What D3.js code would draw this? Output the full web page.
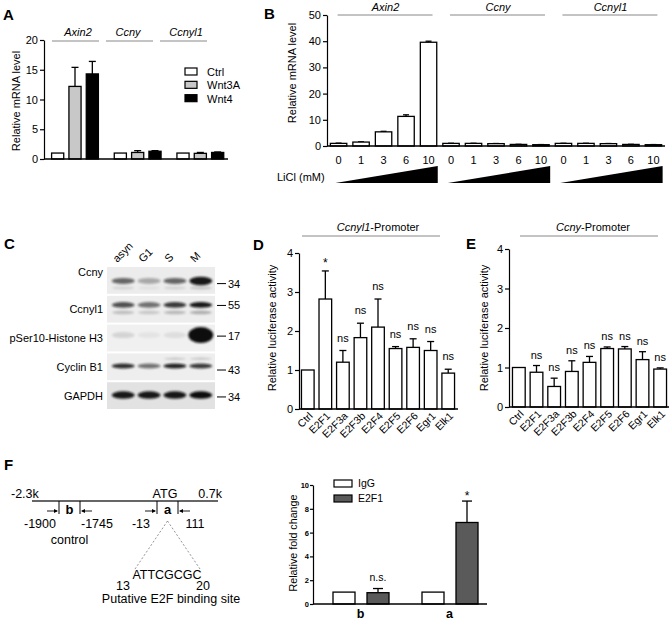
<!DOCTYPE html>
<html><head><meta charset="utf-8">
<script src="https://cdn.jsdelivr.net/npm/d3@7"></script>
<style>body{margin:0;background:#fff}svg{display:block;font-family:"Liberation Sans",Arial,Helvetica,sans-serif}</style>
</head><body><svg id="fig" width="669" height="620"></svg>
<script>
// ---------------- DATA ----------------
// Panel A
const aGenes = ["Axin2","Ccny","Ccnyl1"];
const aSeries = ["Ctrl","Wnt3A","Wnt4"];
const aMeans = [[1,12.2,14.3],[1,1.1,1.3],[1,0.95,1.1]];
const aErrs  = [[0,3.2,2.1],[0,0.3,0.1],[0,0.15,0.08]];
const aTicks = [0,5,10,15,20];
// Panel B
const bGenes = ["Axin2","Ccny","Ccnyl1"];
const bDoses = ["0","1","3","6","10"];
const bMeans = [[1,1.5,5.4,11.3,39.6],[1,1,0.9,0.6,0.5],[1,1,0.9,0.6,0.5]];
const bErrs  = [[0.1,0.1,0.2,0.6,0.4],[0.05,0.05,0.05,0.05,0.05],[0.05,0.05,0.05,0.05,0.05]];
const bTicks = [0,10,20,30,40,50];
// Panel C (western blot)
const cLanes = ["asyn","G1","S","M"];
const cProteins = ["Ccny","Ccnyl1","pSer10-Histone H3","Cyclin B1","GAPDH"];
const cMW = ["34","55","17","43","34"];
const cIntensity = [[0.6,0.3,0.6,0.95],[0.7,0.55,0.8,0.95],[0.12,0.05,0.08,1],[0.85,0.55,0.9,0.8],[0.95,0.95,0.95,1]];
// Panel D / E
const lucFactors = ["Ctrl","E2F1","E2F3a","E2F3b","E2F4","E2F5","E2F6","Egr1","Elk1"];
const dMeans = [1,2.82,1.2,1.83,2.1,1.55,1.58,1.5,0.92];
const dErrs  = [0,0.72,0.3,0.37,0.72,0.05,0.22,0.23,0.1];
const dSig   = ["","*","ns","ns","ns","ns","ns","ns","ns"];
const eMeans = [1,0.88,0.52,0.9,1.13,1.48,1.47,1.2,0.96];
const eErrs  = [0,0.17,0.21,0.27,0.15,0.04,0.06,0.2,0.03];
const eSig   = ["","ns","ns","ns","ns","ns","ns","ns","ns"];
const lucTicks = [0,1,2,3,4];
// Panel F
const fSites = ["b","a"];
const fSeries = ["IgG","E2F1"];
const fMeans = [[1,0.95],[1,6.85]];
const fErrs  = [[0,0.35],[0,1.8]];
const fSig   = [["","n.s."],["","*"]];
const fTicks = [0,2,4,6,8,10];
const fCoords = [-2300,-1900,-1745,-13,111,700];

// ---------------- HELPERS ----------------
const svg = d3.select("#fig");
const defs = svg.append("defs");
defs.append("filter").attr("id","blur").attr("x","-50%").attr("y","-100%").attr("width","200%").attr("height","300%")
  .append("feGaussianBlur").attr("stdDeviation",1.1);

function styleAxis(g, fs, bold){
  g.attr("font-family",null).attr("font-size",null);
  g.selectAll("path,line").attr("stroke","#000").attr("stroke-width",1.2);
  g.selectAll("text").attr("font-size",fs).attr("fill","#000").attr("font-weight",bold?"bold":null);
}
function bar(g, x, w, yScale, m, e, fill, cap){
  const cx = x + w/2;
  if (e > 0){
    g.append("line").attr("x1",cx).attr("x2",cx).attr("y1",yScale(m)).attr("y2",yScale(m+e)).attr("stroke","#000").attr("stroke-width",1.3);
    g.append("line").attr("x1",cx-cap).attr("x2",cx+cap).attr("y1",yScale(m+e)).attr("y2",yScale(m+e)).attr("stroke","#000").attr("stroke-width",1.3);
  }
  g.append("rect").attr("x",x).attr("y",yScale(m)).attr("width",w).attr("height",yScale(0)-yScale(m))
    .attr("fill",fill).attr("stroke","#000").attr("stroke-width",1.3);
}
function panelLetter(t,x,y){
  svg.append("text").attr("x",x).attr("y",y).attr("font-size",15).attr("font-weight","bold").text(t);
}
function yTitle(t,x,y,fs){
  svg.append("text").attr("transform",`translate(${x},${y}) rotate(-90)`).attr("text-anchor","middle")
    .attr("font-size",fs).text(t);
}

// ---------------- PANEL A ----------------
panelLetter("A",3,20);
{
  const g = svg.append("g");
  const y = d3.scaleLinear().domain([0,20]).range([159,40]);
  const x0 = d3.scaleBand().domain(aGenes).range([44,232]);
  const x1 = d3.scaleBand().domain(aSeries).range([5,57]).paddingInner(0.3).paddingOuter(0.15);
  const col = d3.scaleOrdinal().domain(aSeries).range(["#fff","#c8c8c8","#000"]);
  aGenes.forEach((gn,i)=>aSeries.forEach((s,j)=>{
    bar(g, x0(gn)+x1(s), x1.bandwidth(), y, aMeans[i][j], aErrs[i][j], col(s), 3.5);
  }));
  const ax = g.append("g").attr("transform","translate(44,0)").call(d3.axisLeft(y).tickValues(aTicks).tickSize(4).tickPadding(2).tickSizeOuter(0));
  styleAxis(ax,11);
  g.append("line").attr("x1",44).attr("x2",228).attr("y1",159).attr("y2",159).attr("stroke","#000").attr("stroke-width",1.3);
  const hx = d3.scaleBand().domain(aGenes).range([50,212]);
  aGenes.forEach(gn=>{
    g.append("line").attr("x1",hx(gn)+2).attr("x2",hx(gn)+hx.bandwidth()-5).attr("y1",41).attr("y2",41).attr("stroke","#888").attr("stroke-width",1);
    g.append("text").attr("x",hx(gn)+hx.bandwidth()/2+(gn==="Ccny"?-3:1)).attr("y",36).attr("text-anchor","middle")
      .attr("font-size",11).attr("font-style","italic").text(gn);
  });
  const ly = d3.scaleBand().domain(aSeries).range([67,107]);
  aSeries.forEach(s=>{
    g.append("rect").attr("x",185).attr("y",ly(s)+1).attr("width",12).attr("height",7).attr("fill",col(s)).attr("stroke","#000").attr("stroke-width",1.2);
    g.append("text").attr("x",207).attr("y",ly(s)+9).attr("font-size",11).text(s);
  });
  yTitle("Relative mRNA level",20,101,11);
}

// ---------------- PANEL B ----------------
panelLetter("B",264,19);
{
  const g = svg.append("g");
  const y = d3.scaleLinear().domain([0,50]).range([146,15]);
  const keys = [];
  bGenes.forEach(gn=>bDoses.forEach(d=>keys.push(gn+"|"+d)));
  const x = d3.scaleBand().domain(keys).range([327,665]).paddingInner(0.27).paddingOuter(0.15);
  const bw = x.bandwidth();
  bGenes.forEach((gn,i)=>bDoses.forEach((d,j)=>{
    bar(g, x(gn+"|"+d), bw, y, bMeans[i][j], bErrs[i][j], "#fff", 3);
    g.append("text").attr("x",x(gn+"|"+d)+bw/2).attr("y",164).attr("text-anchor","middle").attr("font-size",11).text(d);
  }));
  const ax = g.append("g").attr("transform","translate(327,0)").call(d3.axisLeft(y).tickValues(bTicks).tickSize(4).tickPadding(2).tickSizeOuter(0));
  styleAxis(ax,11);
  g.append("line").attr("x1",327).attr("x2",665).attr("y1",146).attr("y2",146).attr("stroke","#000").attr("stroke-width",1.3);
  bGenes.forEach(gn=>{
    const xa = x(gn+"|"+bDoses[0])+bw/2, xb = x(gn+"|"+bDoses[4])+bw/2+4;
    g.append("line").attr("x1",xa-1).attr("x2",xb).attr("y1",15).attr("y2",15).attr("stroke","#888").attr("stroke-width",1);
    g.append("text").attr("x",(xa+xb)/2).attr("y",11).attr("text-anchor","middle").attr("font-size",11).attr("font-style","italic").text(gn);
    const l = x(gn+"|"+bDoses[0])+5, r = x(gn+"|"+bDoses[4])+bw+1;
    g.append("polygon").attr("points",`${l},183 ${r},166 ${r},183`).attr("fill","#000");
  });
  g.append("text").attr("x",277).attr("y",181).attr("font-size",11).text("LiCl (mM)");
  yTitle("Relative mRNA level",296,73,11);
}

// ---------------- PANEL C ----------------
panelLetter("C",4,249);
{
  const g = svg.append("g");
  const xl = d3.scaleBand().domain(cLanes).range([109,215]).padding(0.1);
  const yr = d3.scaleBand().domain(cProteins).range([267,409]).paddingInner(0.07);
  const bgCol = ["#ececec","#ededed","#f0f0f0","#eeeeee","#e2e2e2"];
  const bandPos = [0.52,0.34,0.39,0.47,0.48];
  const bandRy = [3,2.8,3,2.4,3.8];
  const mwPos = [0.62,0.36,0.43,0.62,0.55];
  cProteins.forEach((p,i)=>{
    const top = yr(p), h = yr.bandwidth();
    g.append("rect").attr("x",107).attr("y",top).attr("width",108).attr("height",h).attr("fill",bgCol[i]);
    cLanes.forEach((ln,j)=>{
      const cx = xl(ln)+xl.bandwidth()/2;
      const v = cIntensity[i][j];
      let rx = 11.5, ry = bandRy[i];
      if (i===2 && v>0.5){ rx = 12.5; ry = 8; }
      if (i===0 && v>0.9){ ry = 4.2; }
      if (i===1) g.append("ellipse").attr("cx",cx).attr("cy",top+h*0.62).attr("rx",11).attr("ry",1.8)
        .attr("fill","#333").attr("opacity",v*0.35).attr("filter","url(#blur)");
      if (i===0) g.append("ellipse").attr("cx",cx).attr("cy",top+h*0.78).attr("rx",11).attr("ry",1.5)
        .attr("fill","#444").attr("opacity",v*0.25).attr("filter","url(#blur)");
      if (i===3 && j>=2) g.append("ellipse").attr("cx",cx).attr("cy",top+h*0.2).attr("rx",11).attr("ry",1.2)
        .attr("fill","#555").attr("opacity",0.25).attr("filter","url(#blur)");
      g.append("ellipse").attr("cx",cx).attr("cy",top+h*bandPos[i]).attr("rx",rx).attr("ry",ry)
        .attr("fill","#111").attr("opacity",v).attr("filter","url(#blur)");
    });
    g.append("text").attr("x",103).attr("y",top+h*0.5+(i===0?-4:4)).attr("text-anchor","end").attr("font-size",11).text(p);
    const my = top+h*mwPos[i];
    g.append("line").attr("x1",217).attr("x2",226).attr("y1",my).attr("y2",my).attr("stroke","#000").attr("stroke-width",1);
    g.append("text").attr("x",228).attr("y",my+4).attr("font-size",11).text(cMW[i]);
  });
  cLanes.forEach(ln=>{
    const cx = xl(ln)+xl.bandwidth()/2;
    g.append("text").attr("transform",`translate(${cx-6},263) rotate(-45)`).attr("font-size",11).text(ln);
  });
}

// ---------------- PANELS D & E ----------------
function lucPanel(o){
  const g = svg.append("g");
  const y = d3.scaleLinear().domain([0,4]).range([o.y0,o.y4]);
  const x = d3.scaleBand().domain(lucFactors).range([o.xr0,o.xr1]).paddingInner(0.28).paddingOuter(0.14);
  const bw = x.bandwidth();
  lucFactors.forEach((f,i)=>{
    bar(g, x(f), bw, y, o.means[i], o.errs[i], "#fff", 3.5);
    const top = y(o.means[i]+o.errs[i]);
    if (o.sig[i]==="*") g.append("text").attr("x",x(f)+bw/2).attr("y",top-4).attr("text-anchor","middle").attr("font-size",12).text("*");
    else if (o.sig[i]) g.append("text").attr("x",x(f)+bw/2).attr("y",top-o.off).attr("text-anchor","middle").attr("font-size",11).text(o.sig[i]);
    g.append("text").attr("transform",`translate(${x(f)+bw/2+3},${o.y0+5}) rotate(-45)`).attr("text-anchor","end")
      .attr("dy","0.35em").attr("font-size",10.5).text(f);
  });
  const ax = g.append("g").attr("transform",`translate(${o.ax},0)`)
    .call(d3.axisLeft(y).tickValues(lucTicks).tickFormat(d3.format("d")).tickSize(4).tickPadding(2).tickSizeOuter(0));
  styleAxis(ax,11);
  g.append("line").attr("x1",o.ax).attr("x2",o.xend).attr("y1",o.y0).attr("y2",o.y0).attr("stroke","#000").attr("stroke-width",1.3);
  g.append("line").attr("x1",o.h0).attr("x2",o.h1).attr("y1",236).attr("y2",236).attr("stroke","#888").attr("stroke-width",1);
  const t = g.append("text").attr("x",o.hc).attr("y",231).attr("text-anchor","middle").attr("font-size",11);
  t.append("tspan").attr("font-style","italic").text(o.gene);
  t.append("tspan").text("-Promoter");
  yTitle("Relative luciferase activity",o.tx,328,11);
}
panelLetter("D",253,250);
lucPanel({y0:409,y4:253,xr0:299,xr1:457,ax:299,xend:458,means:dMeans,errs:dErrs,sig:dSig,off:9,
  h0:302,h1:440,hc:378,gene:"Ccnyl1",tx:276});
panelLetter("E",466,249);
lucPanel({y0:407,y4:249,xr0:510,xr1:669,ax:509,xend:669,means:eMeans,errs:eErrs,sig:eSig,off:7,
  h0:520,h1:658,hc:593,gene:"Ccny",tx:488});

// ---------------- PANEL F (diagram) ----------------
panelLetter("F",4,470);
{
  const g = svg.append("g");
  const fs = 12.5;
  const gx = d3.scaleLinear().domain(fCoords).range([32,59,80,157,178,218]);
  g.append("line").attr("x1",gx(-2300)).attr("x2",gx(700)).attr("y1",501).attr("y2",501).attr("stroke","#333").attr("stroke-width",1.5);
  g.append("text").attr("x",gx(-2300)-21).attr("y",498).attr("font-size",fs).text("-2.3k");
  g.append("text").attr("x",gx(-13)+8).attr("y",498).attr("text-anchor","middle").attr("font-size",fs).text("ATG");
  g.append("text").attr("x",gx(700)+4).attr("y",498).attr("text-anchor","end").attr("font-size",fs).text("0.7k");
  const sites = [{n:"b",s:-1900,e:-1745},{n:"a",s:-13,e:111}];
  sites.forEach(d=>{
    const xs = gx(d.s), xe = gx(d.e);
    [xs,xe].forEach(xx=>g.append("line").attr("x1",xx).attr("x2",xx).attr("y1",501).attr("y2",514).attr("stroke","#000").attr("stroke-width",1));
    g.append("text").attr("x",(xs+xe)/2).attr("y",514).attr("text-anchor","middle").attr("font-size",13).attr("font-weight","bold").text(d.n);
    g.append("line").attr("x1",xs-12).attr("x2",xs-2).attr("y1",511).attr("y2",511).attr("stroke","#000").attr("stroke-width",0.9);
    g.append("polygon").attr("points",`${xs-1},511 ${xs-5},509 ${xs-5},513`).attr("fill","#000");
    g.append("line").attr("x1",xe+2).attr("x2",xe+12).attr("y1",511).attr("y2",511).attr("stroke","#000").attr("stroke-width",0.9);
    g.append("polygon").attr("points",`${xe+1},511 ${xe+5},509 ${xe+5},513`).attr("fill","#000");
    g.append("text").attr("x",d.n==="b"?xs-19:xs-16).attr("y",528).attr("text-anchor","middle").attr("font-size",fs).text(d.s);
    g.append("text").attr("x",xe+17).attr("y",528).attr("text-anchor","middle").attr("font-size",fs).text(d.e);
  });
  g.append("text").attr("x",(gx(-1900)+gx(-1745))/2).attr("y",544).attr("text-anchor","middle").attr("font-size",fs).text("control");
  const ax0 = (gx(-13)+gx(111))/2;
  g.append("line").attr("x1",ax0).attr("y1",521).attr("x2",135).attr("y2",569).attr("stroke","#777").attr("stroke-dasharray","2,2").attr("stroke-width",0.8);
  g.append("line").attr("x1",ax0).attr("y1",521).attr("x2",200).attr("y2",569).attr("stroke","#777").attr("stroke-dasharray","2,2").attr("stroke-width",0.8);
  g.append("text").attr("x",167).attr("y",579).attr("text-anchor","middle").attr("font-size",fs).text("ATTCGCGC");
  g.append("text").attr("x",123).attr("y",590).attr("text-anchor","middle").attr("font-size",fs).text("13");
  g.append("text").attr("x",203).attr("y",590).attr("text-anchor","middle").attr("font-size",fs).text("20");
  g.append("text").attr("x",171).attr("y",603).attr("text-anchor","middle").attr("font-size",fs).text("Putative E2F binding site");
}
// ---------------- PANEL F (chart) ----------------
{
  const g = svg.append("g");
  const y = d3.scaleLinear().domain([0,10]).range([604,485]);
  const x0 = d3.scaleBand().domain(fSites).range([316.5,494.5]);
  const x1 = d3.scaleBand().domain(fSeries).range([16.5,72.5]).paddingInner(0.353);
  const col = d3.scaleOrdinal().domain(fSeries).range(["#fff","#5a5a5a"]);
  fSites.forEach((s,i)=>fSeries.forEach((se,j)=>{
    const xx = x0(s)+x1(se), w = x1.bandwidth();
    bar(g, xx, w, y, fMeans[i][j], fErrs[i][j], col(se), 5);
    const top = y(fMeans[i][j]+fErrs[i][j]);
    if (fSig[i][j]==="*") g.append("text").attr("x",xx+w/2).attr("y",top-1).attr("text-anchor","middle").attr("font-size",12).text("*");
    else if (fSig[i][j]) g.append("text").attr("x",xx+w/2).attr("y",top-8).attr("text-anchor","middle").attr("font-size",10.5).text(fSig[i][j]);
  }));
  fSites.forEach(s=>g.append("text").attr("x",x0(s)+x0.bandwidth()/2-0.5).attr("y",618).attr("text-anchor","middle")
    .attr("font-size",12.5).attr("font-weight","bold").text(s));
  const ax = g.append("g").attr("transform","translate(313,0)").call(d3.axisLeft(y).tickValues(fTicks).tickSize(3).tickPadding(1).tickSizeOuter(0));
  styleAxis(ax,7.5,true);
  g.append("line").attr("x1",313).attr("x2",487).attr("y1",604).attr("y2",604).attr("stroke","#000").attr("stroke-width",1.3);
  const ly = d3.scaleBand().domain(fSeries).range([479,509]);
  fSeries.forEach(se=>{
    g.append("rect").attr("x",334).attr("y",ly(se)+1).attr("width",18).attr("height",7).attr("fill",col(se)).attr("stroke","#000").attr("stroke-width",1.2);
    g.append("text").attr("x",358).attr("y",ly(se)+8).attr("font-size",10.5).text(se);
  });
  yTitle("Relative fold change",297,543,10.7);
}
</script></body></html>
